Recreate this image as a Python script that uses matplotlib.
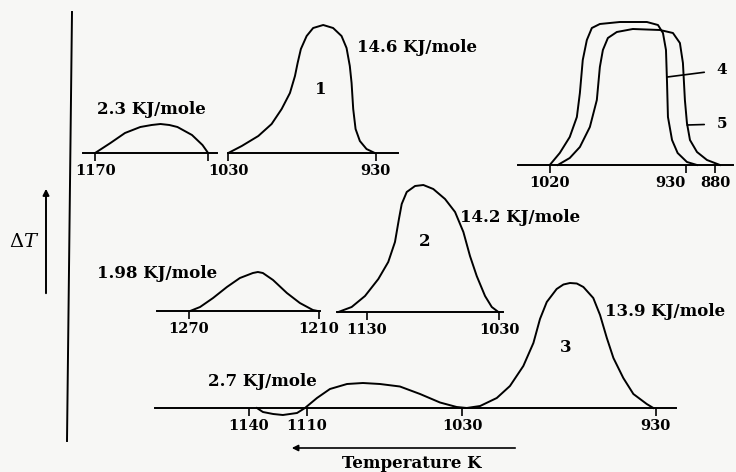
import numpy as np
import matplotlib
matplotlib.use('Agg')
import matplotlib.pyplot as plt

plt.rcParams['font.family'] = 'DejaVu Serif'
plt.rcParams['mathtext.fontset'] = 'dejavuserif'

W, H = 736, 472

# top left: small hump, 2.3 KJ/mole
a_temp = [1170, 1151, 1133, 1114, 1100, 1089, 1078, 1068, 1050, 1037, 1030]
a_dt = [0, 10, 20, 26, 28, 29, 28, 26, 18, 8, 0]

# peak 1, 14.6 KJ/mole
b_temp = [1029.8, 1020.7, 1009.5, 1000.5, 993.7, 988.1, 984.7, 982.9, 980.7, 976.8,
          972.4, 965.6, 958.9, 953.2, 949.8, 947.6, 946.4, 945.3, 943.7, 940.8,
          936.3, 930.7]
b_dt = [0, 7, 17, 29, 44, 60, 77, 90, 104, 117, 125, 128, 125, 117, 105, 87,
        70, 44, 24, 12, 4, 0]

# curves 4 and 5 (top right)
c4_temp = [1020, 1013.4, 1006.8, 1002.1, 1000.1, 998.2, 995.5, 992.2, 986.9,
           973.7, 955.8, 948.5, 945.2, 943.2, 942.5, 941.9, 939.2, 935.5, 928.3, 911]
c4_dt = [0, 12, 28, 48, 72, 105, 125, 137, 141, 143, 143, 140, 132, 115, 82,
         48, 25, 12, 3, 0]
c5_temp = [1014.7, 1006.8, 1000.1, 993.5, 988.9, 986.9, 984.9, 981.6, 975.7,
           965.1, 947.2, 938.6, 934, 932, 930.7, 928.3, 923.1, 911, 893.8, 871.4]
c5_dt = [0, 7, 18, 38, 65, 98, 115, 127, 133, 136, 135, 132, 122, 102, 65,
         42, 25, 13, 5, 0]

# middle left: 1.98 KJ/mole
d_temp = [1269.5, 1264.9, 1258.9, 1252.5, 1246.5, 1240.5, 1238.2, 1235.9,
          1231.2, 1224.8, 1218.8, 1212.8, 1210.5]
d_dt = [0, 4, 13, 24, 33, 38, 39, 38, 31, 18, 8, 1, 0]

# peak 2, 14.2 KJ/mole
e_temp = [1151.7, 1141.6, 1131.5, 1121.4, 1113.9, 1108.8, 1105.8, 1103.7, 1099.9,
          1093.6, 1087.3, 1079.8, 1070.9, 1063.3, 1057.0, 1052.0, 1046.9, 1040.6,
          1035.5, 1030.5]
e_dt = [0, 5, 16, 33, 50, 70, 93, 108, 120, 126, 127, 123, 113, 100, 80, 56,
        36, 16, 5, 0]

# bottom: 2.7 KJ/mole and peak 3, 13.9 KJ/mole
f_temp = [1135.9, 1132.8, 1127.5, 1122.5, 1115.2, 1111.1, 1104.9, 1098.2, 1089.4,
          1081.2, 1072.4, 1062.1, 1051.7, 1041.4, 1032.8, 1027.6, 1020.7, 1012.1,
          1005.3, 998.4, 993.2, 989.8, 986.3, 981.2, 977.7, 974.3, 970.8, 967.4,
          962.3, 958.8, 955.3, 951.9, 946.8, 941.6, 934.7, 931.3]
f_dt = [0, -4, -6, -7, -5, 0, 10, 19, 24, 25, 24, 21.5, 14, 5.5, 1, 0, 2, 10,
        22, 42, 65, 89, 106, 119, 123.5, 125, 124.5, 121, 110, 93, 70, 50, 30,
        14, 4, 0]

fig = plt.figure(figsize=(W / 100, H / 100), dpi=100)
fig.patch.set_facecolor('#f7f7f5')

LW = 1.4
TXT = dict(fontsize=12, fontweight='bold', va='center')


def px(x, y):
    return x / W, 1 - y / H


def panel(x0, x1, base, t0, t1, ticks, labels=None, funcs=None):
    ax = fig.add_axes([x0 / W, 1 - (base + 12) / H, (x1 - x0) / W, 170 / H])
    if funcs is not None:
        ax.set_xscale('function', functions=funcs)
    ax.set_xlim(t0, t1)
    ax.set_ylim(-12, 158)
    for s in ['top', 'left', 'right']:
        ax.spines[s].set_visible(False)
    ax.spines['bottom'].set_position(('data', 0))
    ax.spines['bottom'].set_linewidth(LW)
    ax.set_yticks([])
    if labels is None:
        labels = [str(t) for t in ticks]
    ax.set_xticks(ticks, labels=labels)
    ax.tick_params(axis='x', direction='out', length=6, width=1.2, pad=2,
                   labelsize=10.5)
    for lab in ax.get_xticklabels():
        lab.set_fontweight('bold')
    ax.patch.set_alpha(0)
    return ax


ax = panel(83, 217, 153, 1185, 1019, [1170, 1030], labels=['1170', ''])
ax.plot(a_temp, a_dt, color='black', lw=LW)
fig.text(*px(97, 110), '2.3 KJ/mole', **TXT)

ax = panel(228, 398, 153, 1030, 915, [1030, 930])
ax.plot(b_temp, b_dt, color='black', lw=LW)
fig.text(*px(321, 89), '1', ha='center', **TXT)
fig.text(*px(357, 48), '14.6 KJ/mole', **TXT)


# top right panel: the 930-880 stretch is drawn compressed
def c_fwd(t):
    t = np.asarray(t, dtype=float)
    return np.where(t <= 930, (t - 930) * 0.58, (t - 930) * 1.511)


def c_inv(p):
    p = np.asarray(p, dtype=float)
    return np.where(p <= 0, 930 + p / 0.58, 930 + p / 1.511)


ax = panel(518, 733, 165, 1041, 849, [1020, 930, 880], funcs=(c_fwd, c_inv))
ax.get_xticklabels()[1].set_horizontalalignment('right')
ax.plot(c4_temp, c4_dt, color='black', lw=LW)
ax.plot(c5_temp, c5_dt, color='black', lw=LW)
ax.annotate('4', xy=(942.3, 88), xytext=(722, H - 70), textcoords='figure pixels',
            ha='center', va='center', fontsize=11, fontweight='bold',
            arrowprops=dict(arrowstyle='-', lw=1.2, color='black', shrinkB=0, shrinkA=7))
ax.annotate('5', xy=(928.0, 40), xytext=(722, H - 124), textcoords='figure pixels',
            ha='center', va='center', fontsize=11, fontweight='bold',
            arrowprops=dict(arrowstyle='-', lw=1.2, color='black', shrinkB=0, shrinkA=7))

ax = panel(157, 320, 311, 1284.8, 1209.5, [1270, 1210])
ax.plot(d_temp, d_dt, color='black', lw=LW)
fig.text(*px(97, 273), '1.98 KJ/mole', **TXT)

ax = panel(337, 503, 312, 1152.7, 1027, [1130, 1030])
ax.plot(e_temp, e_dt, color='black', lw=LW)
fig.text(*px(425, 242), '2', ha='center', **TXT)
fig.text(*px(460, 217), '14.2 KJ/mole', **TXT)

ax = panel(155, 676, 408, 1188.5, 919.6, [1140, 1110, 1030, 930])
ax.plot(f_temp, f_dt, color='black', lw=LW)
fig.text(*px(566, 348), '3', ha='center', **TXT)
fig.text(*px(208, 381), '2.7 KJ/mole', **TXT)
fig.text(*px(605, 311), '13.9 KJ/mole', **TXT)

# frame: vertical axis, delta T arrow, temperature arrow
fig.add_artist(plt.Line2D([72 / W, 67 / W], [1 - 12 / H, 1 - 441 / H],
                          color='black', lw=LW))
fig.add_artist(matplotlib.patches.FancyArrowPatch(
    px(46, 296), px(46, 186), arrowstyle='-|>', mutation_scale=9,
    lw=LW, color='black'))
fig.text(*px(24, 242), r'$\Delta T$', ha='center', va='center', fontsize=14)
fig.add_artist(matplotlib.patches.FancyArrowPatch(
    px(518, 448), px(289, 448), arrowstyle='-|>', mutation_scale=9,
    lw=1.2, color='black'))
fig.text(*px(412, 464), 'Temperature K', ha='center', va='center',
         fontsize=12, fontweight='bold')

fig.savefig('out.png', dpi=100, facecolor=fig.get_facecolor())
